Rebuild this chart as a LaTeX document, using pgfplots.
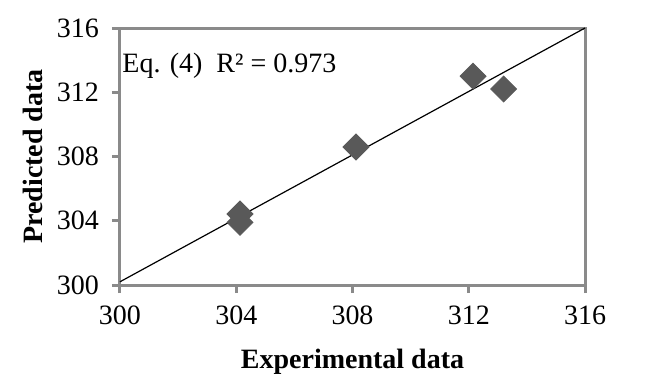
\documentclass[border=0pt]{standalone}
\usepackage{fontspec}
\setmainfont{Liberation Serif}
\usepackage{pgfplots}
\pgfplotsset{compat=1.18}
\begin{document}
\begin{tikzpicture}
\begin{axis}[
  name=ax, at={(0,0)}, anchor=south west,
  scale only axis, width=232.5pt, height=128.5pt,
  xmin=300, xmax=316, ymin=300, ymax=316,
  xtick={300,304,...,316}, ytick={300,304,...,316},
  axis line style={draw=black!46, line width=1.5pt},
  tick style={draw=black!46, line width=1.5pt},
  tick align=outside, major tick length=4pt,
  xtick pos=bottom, ytick pos=left,
  /pgf/number format/assume math mode=true,
  /pgf/number format/set thousands separator={},
  ticklabel style={font=\fontsize{14}{16}\selectfont},
  xticklabel style={yshift=-3pt},
  yticklabel style={xshift=-3pt},
  xlabel={\textbf{Experimental data}}, ylabel={\textbf{Predicted data}},
  label style={font=\fontsize{14}{16}\selectfont},
  xlabel style={yshift=-5pt},
  ylabel style={yshift=0pt},
  clip=false,
]
\addplot[black, line width=0.6pt] coordinates {(300,300.2) (316,316)};
\addplot[only marks, mark=square*, mark size=4.6pt, color=black!65, mark options={fill=black!65, draw=black!65, rotate=45}] coordinates {
(304.13,304.42) (304.13,303.9) (308.12,308.59) (312.15,313.0) (313.2,312.2)};
\node[anchor=base west, inner sep=1pt, font=\fontsize{14}{16}\selectfont] at (axis cs:300,313.2) {Eq. (4)\ \ R² = 0.973};
\end{axis}
\pgfresetboundingbox
\path (-60pt,-48pt) rectangle (264.5pt,142.5pt);
\end{tikzpicture}
\end{document}
